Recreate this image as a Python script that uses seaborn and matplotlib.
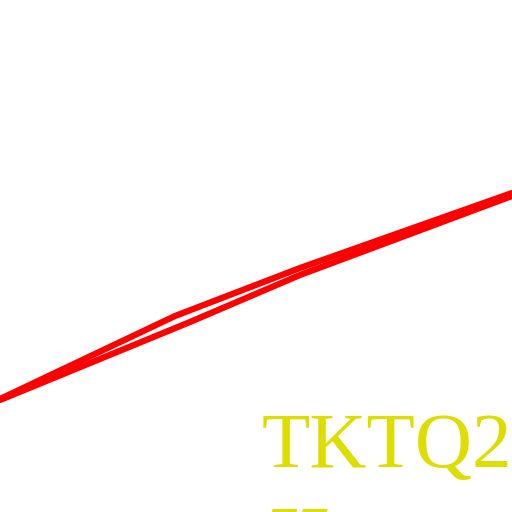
import matplotlib
matplotlib.use("Agg")
import matplotlib.pyplot as plt
import seaborn as sns
import pandas as pd

sns.set_theme(style="white")
plt.rcParams['font.family'] = ['Liberation Serif', 'DejaVu Serif']

# data (arbitrary units, y grows downward as in the picture)
upper_x = [0, 175, 300, 512]
upper_y = [399, 316, 268, 193]
lower_x = [0, 190, 300, 512]
lower_y = [400, 322, 275, 196]
title_text = "TKTQ2"
sub_text = "H"

df = pd.concat([
    pd.DataFrame({"x": upper_x, "y": upper_y, "series": "a"}),
    pd.DataFrame({"x": lower_x, "y": lower_y, "series": "b"}),
])

fig = plt.figure(figsize=(5.12, 5.12), dpi=100)
ax = fig.add_axes([0, 0, 1, 1])
sns.lineplot(data=df, x="x", y="y", units="series", estimator=None,
             color="#ff0000", linewidth=4.5, ax=ax, legend=False, sort=False)
ax.set_xlim(0, 512)
ax.set_ylim(512, 0)
ax.axis("off")

ax.text(262 / 512, 1 - 467 / 512, title_text, transform=ax.transAxes,
        fontsize=57, color="#dddd00", va="baseline", ha="left",
        family=["Liberation Serif", "DejaVu Serif"])
ax.text(264 / 512, 1 - 560 / 512, sub_text, transform=ax.transAxes,
        fontsize=57, color="#dddd00", va="baseline", ha="left",
        fontweight="bold", fontstyle="italic", clip_on=False,
        family=["Liberation Serif", "DejaVu Serif"])

fig.savefig("out.png", dpi=100, facecolor="white")
